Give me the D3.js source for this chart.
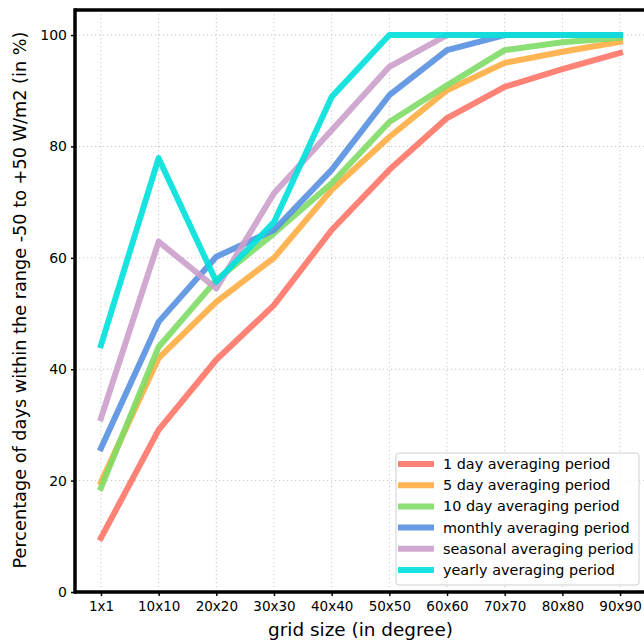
<!DOCTYPE html>
<html>
<head>
<meta charset="utf-8">
<script src="https://cdn.jsdelivr.net/npm/d3@7"></script>
<style>
	body { margin: 0; background: #fff; }
	svg { display: block; font-family: "DejaVu Sans", sans-serif; }
</style>
</head>
<body>
<div id="wrapper"></div>
<script>
// data
const gridSizes = ["1x1", "10x10", "20x20", "30x30", "40x40", "50x50", "60x60", "70x70", "80x80", "90x90"];
const yTicks = [0, 20, 40, 60, 80, 100];

const oneDay   = [9.7, 29.1, 41.7, 51.5, 65.0, 75.8, 85.1, 90.7, 93.9, 96.8];
const fiveDay  = [19.7, 42.0, 52.1, 60.0, 72.2, 81.7, 90.1, 95.0, 97.0, 98.8];
const tenDay   = [18.7, 44.0, 56.0, 64.4, 73.4, 84.4, 91.0, 97.3, 98.7, 99.5];
const monthly  = [25.8, 48.5, 60.2, 65.0, 75.8, 89.2, 97.3, 100, 100, 100];
const seasonal = [31.2, 62.9, 54.5, 71.6, 82.9, 94.3, 100, 100, 100, 100];
const yearly   = [44.3, 77.9, 55.7, 66.4, 88.9, 100, 100, 100, 100, 100];

const seriesNames = ["1 day averaging period", "5 day averaging period", "10 day averaging period",
	"monthly averaging period", "seasonal averaging period", "yearly averaging period"];
const seriesValues = [oneDay, fiveDay, tenDay, monthly, seasonal, yearly];
const seriesColors = ["#ff7468", "#ffad40", "#7fdb66", "#5690e0", "#cca0cb", "#00e0dc"];

const width = 644;
const height = 640;
const margin = {top: 10, right: -2, bottom: 48, left: 75};

const svg = d3.select("#wrapper")
	.append("svg")
	.attr("width", width)
	.attr("height", height);

const x = d3.scalePoint()
	.domain(gridSizes)
	.range([margin.left, width - margin.right])
	.padding(0.45);

const y = d3.scaleLinear()
	.domain([0, 104.5])
	.range([height - margin.bottom, margin.top]);

// grid
const grid = svg.append("g").attr("stroke", "#c4c4c4").attr("stroke-width", 1).attr("stroke-dasharray", "1.2,2.8");
grid.selectAll(".vgrid")
	.data(gridSizes)
	.enter()
	.append("line")
	.attr("x1", d => x(d)).attr("x2", d => x(d))
	.attr("y1", y(104.5)).attr("y2", y(0));
grid.selectAll(".hgrid")
	.data(yTicks)
	.enter()
	.append("line")
	.attr("x1", margin.left).attr("x2", width)
	.attr("y1", d => y(d)).attr("y2", d => y(d));

// lines
const line = d3.line()
	.x((d, i) => x(gridSizes[i]))
	.y(d => y(d));

svg.append("g").selectAll("path")
	.data(seriesValues)
	.enter()
	.append("path")
	.attr("d", line)
	.attr("fill", "none")
	.attr("stroke", (d, i) => seriesColors[i])
	.attr("stroke-opacity", 0.9)
	.attr("stroke-width", 6)
	.attr("stroke-linejoin", "round")
	.attr("stroke-linecap", "square");

// axes
const xAxis = svg.append("g")
	.attr("transform", `translate(0,${y(0)})`)
	.call(d3.axisBottom(x).tickSize(4).tickPadding(5));
xAxis.selectAll("text").attr("font-size", 13.5).attr("fill", "#000").attr("font-family", "DejaVu Sans");
xAxis.selectAll("line").attr("stroke-width", 1.5);
xAxis.select(".domain").remove();

const yAxis = svg.append("g")
	.attr("transform", `translate(${margin.left},0)`)
	.call(d3.axisLeft(y).tickValues(yTicks).tickSize(4).tickPadding(4));
yAxis.selectAll("text").attr("font-size", 14).attr("fill", "#000").attr("font-family", "DejaVu Sans");
yAxis.selectAll("line").attr("stroke-width", 1.5);
yAxis.select(".domain").remove();

// spines
const spines = svg.append("g").attr("stroke", "#000").attr("stroke-width", 3.5).attr("fill", "none");
spines.append("line").attr("x1", margin.left).attr("x2", margin.left).attr("y1", y(104.5) - 1.75).attr("y2", y(0) + 1.75);
spines.append("line").attr("x1", margin.left).attr("x2", width).attr("y1", y(0)).attr("y2", y(0));
spines.append("line").attr("x1", margin.left).attr("x2", width).attr("y1", y(104.5)).attr("y2", y(104.5));

// axis titles
svg.append("text")
	.attr("x", (margin.left + width - margin.right) / 2)
	.attr("y", 636)
	.attr("text-anchor", "middle")
	.attr("font-size", 18.4)
	.text("grid size (in degree)");

svg.append("text")
	.attr("transform", `translate(26,300) rotate(-90)`)
	.attr("text-anchor", "middle")
	.attr("font-size", 17.7)
	.text("Percentage of days within the range -50 to +50 W/m2 (in %)");

// legend
const legend = svg.append("g").attr("transform", "translate(396,453)");
legend.append("rect")
	.attr("width", 243).attr("height", 132)
	.attr("rx", 3)
	.attr("fill", "#fff").attr("fill-opacity", 0.8)
	.attr("stroke", "#d0d0d0");

const items = legend.selectAll(".item")
	.data(seriesNames)
	.enter()
	.append("g")
	.attr("transform", (d, i) => `translate(0,${11 + i * 21.2})`);
items.append("line")
	.attr("x1", 2).attr("x2", 38)
	.attr("stroke", (d, i) => seriesColors[i])
	.attr("stroke-opacity", 0.9)
	.attr("stroke-width", 6);
items.append("text")
	.attr("x", 47)
	.attr("dy", "0.35em")
	.attr("font-size", 14.4)
	.text(d => d);
</script>
</body>
</html>
